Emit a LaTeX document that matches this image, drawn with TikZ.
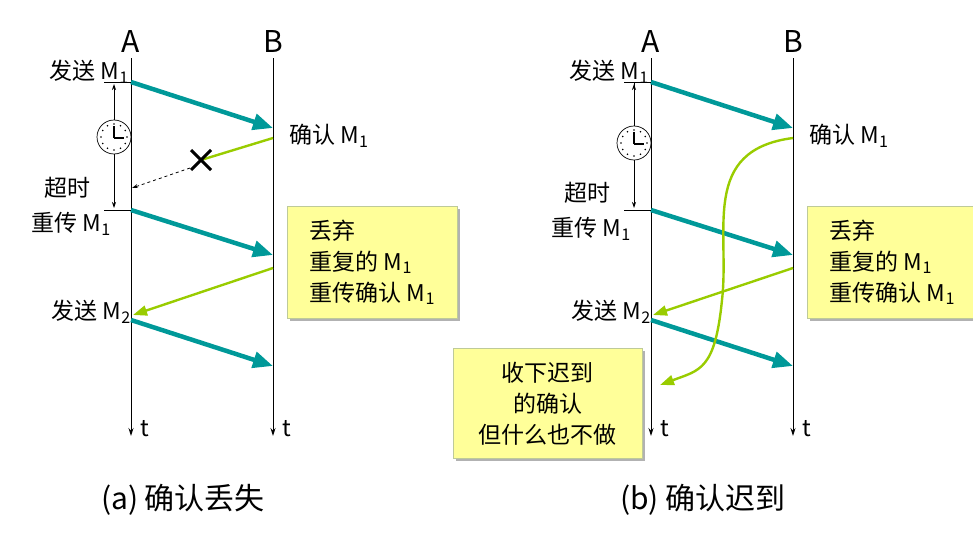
\documentclass[tikz,border=0pt]{standalone}
\usepackage{fontspec}
\setmainfont{Noto Sans CJK SC}
\usetikzlibrary{arrows.meta,calc}
\definecolor{ackc}{RGB}{153,204,0}
\definecolor{msgc}{RGB}{0,153,153}
\definecolor{notef}{RGB}{255,255,153}
\tikzset{
 lbl/.style={font=\fontsize{23}{27}\selectfont, inner sep=1pt},
 big/.style={font=\fontsize{30}{34}\selectfont},
 tl/.style={draw=black, line width=0.9pt, -{Stealth[length=8pt,width=5pt]}},
 msg/.style={draw=msgc, line width=4.5pt, -{Triangle[length=20pt,width=16pt]}},
 ack/.style={draw=ackc, line width=2.4pt, -{Triangle[length=14pt,width=10pt]}},
 note/.style={fill=notef, draw=ackc!60!black!40, line width=0.6pt, font=\fontsize{23}{31}\selectfont, align=left, inner sep=8pt},
 tick/.style={line width=0.8pt},
}
\newcommand{\clockat}[2]{%
 \draw[fill=white,line width=0.7pt] (#1,#2) circle (17);
 \foreach \a in {0,30,...,330} \fill ($(#1,#2)+(\a:13)$) circle (0.9);
 \draw[line width=1.4pt] (#1,#2+1) -- (#1,#2-11);
 \draw[line width=1.4pt] (#1,#2+1) -- (#1+10,#2+1);
}
\begin{document}
\begin{tikzpicture}[x=1pt,y=-1pt]
\useasboundingbox (0,0) rectangle (973,543);
\foreach \d/\cap in {0/{(a) 确认丢失},520/{(b) 确认迟到}} {
\begin{scope}[xshift=\d]
 \coordinate (A0) at (131,58); \coordinate (A1) at (131,436);
 \coordinate (B0) at (273,58); \coordinate (B1) at (273,436);
 \draw[tl] (A0) -- (A1); \draw[tl] (B0) -- (B1);
 \node[big] (NA) at (131,42) {A};
 \node[big] (NB) at (273,42) {B};
 \node[lbl,font=\fontsize{23}{27}\selectfont\itshape] (tA) at (145,429) {t};
 \node[lbl,font=\fontsize{23}{27}\selectfont\itshape] (tB) at (287,429) {t};
 \coordinate (s1) at (131,82); \coordinate (r1) at (273,128);
 \coordinate (s2) at (131,210); \coordinate (r2) at (273,255);
 \coordinate (s3) at (131,320); \coordinate (r3) at (273,366);
 \draw[msg] (s1) -- (r1); \draw[msg] (s2) -- (r2); \draw[msg] (s3) -- (r3);
 \draw[tick] (104,82) -- (s1); \draw[tick] (104,210) -- (s2);
 \node[lbl,anchor=east] (l1) at (130,72) {发送 M\textsubscript{1}};
 \node[lbl,anchor=west] (c1) at (288,136) {确认 M\textsubscript{1}};
 \node[lbl,anchor=east] (l3) at (132,312) {发送 M\textsubscript{2}};
 \fill[gray!60] (290,209) rectangle (460,321);
 \node[note,anchor=north west,minimum width=170pt,minimum height=112pt] (box1) at (287,206) {丢弃\\重复的 M\textsubscript{1}\\重传确认 M\textsubscript{1}};
 \draw[ack] (273,268) -- (133,315);
 \node[big] (cap) at (183,500) {\cap};
\end{scope}}
% left specifics
\draw[tick,{Stealth[length=6pt,width=4pt]}-{Stealth[length=6pt,width=4pt]}] (114,84) -- (114,208);
\clockat{114}{137}
\node[lbl,anchor=east,fill=white] (to1) at (92,188) {超时};
\node[lbl,anchor=east] (rt1) at (112,224) {重传 M\textsubscript{1}};
\coordinate (X) at (201,160);
\draw[ack,-] (273,138) -- (X);
\draw[line width=3pt] (191,150) -- (211,170) (191,170) -- (211,150);
\draw[dashed,line width=0.8pt,-{Stealth[length=6pt,width=4pt]}] (190,168) -- (132,188);
% right specifics
\draw[tick,-{Stealth[length=6pt,width=4pt]}] (634,82) -- (634,208);
\draw[tick,{Stealth[length=6pt,width=4pt]}-] (634,84) -- (634,120);
\clockat{634}{143}
\node[lbl,anchor=east] (to2) at (612,193) {超时};
\node[lbl,anchor=east] (rt2) at (632,229) {重传 M\textsubscript{1}};
\draw[ack] (793,138) .. controls (700,150) and (730,230) .. (722,300) .. controls (715,370) and (700,370) .. (660,385);
\fill[gray!60] (456,351) rectangle (645,461);
\node[note,align=center,minimum width=189pt,minimum height=110pt,anchor=north west] (box3) at (453,348) {收下迟到\\的确认\\但什么也不做};
\end{tikzpicture}
\end{document}
